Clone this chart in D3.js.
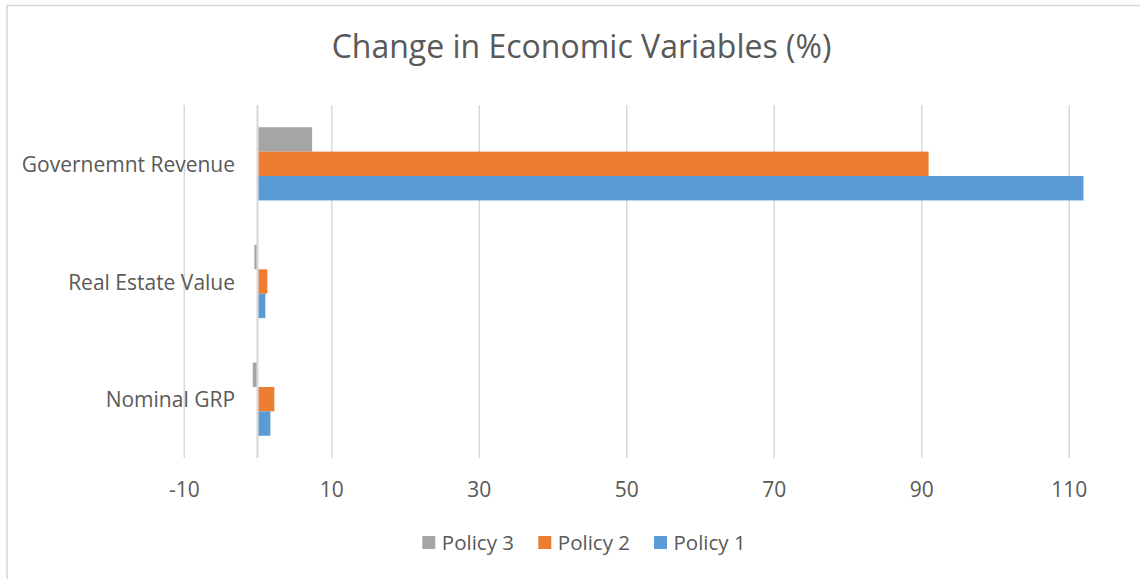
<!DOCTYPE html>
<html>
<head>
<meta charset="utf-8">
<script src="https://cdn.jsdelivr.net/npm/d3@7"></script>
<style>
  html, body { margin: 0; padding: 0; background: #fff; }
  svg { display: block; }
  text { font-family: "Open Sans", "Noto Sans", sans-serif; fill: #595959; }
</style>
</head>
<body>
<svg id="chart" width="1140" height="579"></svg>
<script>
// ---- data ----
const categories = ["Governemnt Revenue", "Real Estate Value", "Nominal GRP"]; // top to bottom
const seriesNames = ["Policy 3", "Policy 2", "Policy 1"]; // top to bottom within a group
const policy1 = [112.0, 1.06, 1.74];
const policy2 = [91.0, 1.33, 2.28];
const policy3 = [7.4, -0.43, -0.65];
const tickValues = [-10, 10, 30, 50, 70, 90, 110];
const titleText = "Change in Economic Variables (%)";

const seriesValues = { "Policy 1": policy1, "Policy 2": policy2, "Policy 3": policy3 };
const colors = { "Policy 1": "#5b9bd5", "Policy 2": "#ed7d31", "Policy 3": "#a5a5a5" };

const svg = d3.select("#chart");

// chart border (extends beyond visible area right/bottom)
svg.append("rect")
  .attr("x", 7).attr("y", 5.5)
  .attr("width", 1200).attr("height", 650)
  .attr("fill", "#fff")
  .attr("stroke", "#d9d9d9").attr("stroke-width", 1.6);

const plotTop = 105, plotBottom = 458;

const x = d3.scaleLinear().domain([-10, 110]).range([183.8, 1068.7]);
const y = d3.scaleBand().domain(categories).range([plotTop, plotBottom])
  .paddingInner(0.378).paddingOuter(0.189);
const ySub = d3.scaleBand().domain(seriesNames).range([0, y.bandwidth()]).padding(0);

// gridlines + tick labels via axis
const axis = d3.axisBottom(x).tickValues(tickValues).tickSize(plotBottom - plotTop).tickFormat(d => String(d));
const gAxis = svg.append("g").attr("transform", `translate(0,${plotTop})`).call(axis);
gAxis.select(".domain").remove();
gAxis.selectAll(".tick line").attr("stroke", "#d9d9d9").attr("stroke-width", 1.5);
gAxis.selectAll(".tick text")
  .attr("y", 392).attr("dy", null)
  .attr("font-size", "21px")
  .style("font-family", '"Open Sans", sans-serif')
  .attr("fill", "#595959");

// bars
const rows = [];
categories.forEach((c, i) => {
  seriesNames.forEach(s => rows.push({ cat: c, series: s, value: seriesValues[s][i] }));
});

svg.append("g").selectAll("rect")
  .data(rows)
  .join("rect")
  .attr("x", d => x(Math.min(0, d.value)))
  .attr("width", d => Math.abs(x(d.value) - x(0)))
  .attr("y", d => y(d.cat) + ySub(d.series))
  .attr("height", ySub.bandwidth())
  .attr("fill", d => colors[d.series]);

// vertical category axis at 0
svg.append("line")
  .attr("x1", x(0)).attr("x2", x(0))
  .attr("y1", plotTop).attr("y2", plotBottom)
  .attr("stroke", "#d9d9d9").attr("stroke-width", 2.2);

// category labels
svg.append("g").selectAll("text")
  .data(categories)
  .join("text")
  .attr("x", x(0) - 22.5)
  .attr("y", d => y(d) + y.bandwidth() / 2 + 8)
  .attr("text-anchor", "end")
  .attr("font-size", "21px")
  .text(d => d);

// title
svg.append("text")
  .attr("x", 581.5).attr("y", 58)
  .attr("text-anchor", "middle")
  .attr("font-size", "32px")
  .text(titleText);

// legend
const legendX = [422.3, 538.3, 654];
const legend = svg.append("g").selectAll("g")
  .data(seriesNames)
  .join("g")
  .attr("transform", (d, i) => `translate(${legendX[i]},536)`);
legend.append("rect")
  .attr("width", 13).attr("height", 13)
  .attr("fill", d => colors[d]);
legend.append("text")
  .attr("x", 19.5).attr("y", 13.8)
  .attr("font-size", "20.5px")
  .text(d => d);
</script>
</body>
</html>
